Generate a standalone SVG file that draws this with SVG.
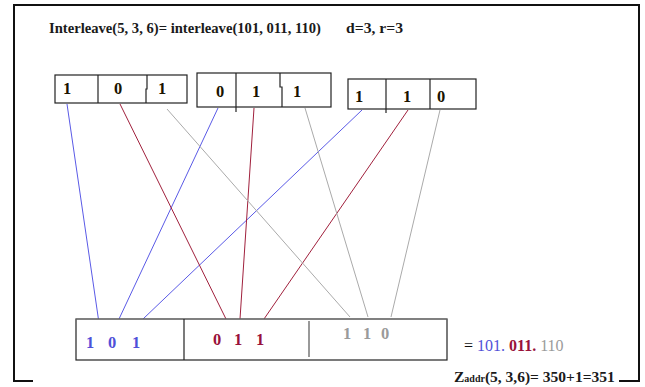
<svg xmlns="http://www.w3.org/2000/svg" width="645" height="387" viewBox="0 0 645 387">
<style>
.frame{fill:none;stroke:#111;stroke-width:2}
.box{fill:#fff;stroke:#222;stroke-width:1.2}
.div{stroke:#222;stroke-width:1.2}
.t{font-family:"Liberation Serif","Times New Roman",serif;font-weight:bold;font-size:15.5px;fill:#1a1a1a}
.d{font-family:"Liberation Serif","Times New Roman",serif;font-weight:bold;font-size:16.5px;fill:#1a1400}
.n{font-family:"Liberation Serif","Times New Roman",serif;font-weight:bold;font-size:16.5px}
.blue{stroke:#5a5ae6;stroke-width:1}
.red{stroke:#a0203c;stroke-width:1}
.gray{stroke:#aaaaaa;stroke-width:1}
.cb{fill:#5050d8}
.cr{fill:#99123a}
.cg{fill:#9a9a9a}
</style>
<rect width="645" height="387" fill="#fff"/>
<g id="frame">
<path class="frame" d="M33,381 H14 V5 H639 V381 H619"/>
</g>
<g id="title">
<text class="t" x="49" y="33" textLength="272" lengthAdjust="spacingAndGlyphs">Interleave(5, 3, 6)= interleave(101, 011, 110)</text>
<text class="t" x="346" y="33" textLength="57" lengthAdjust="spacingAndGlyphs">d=3, r=3</text>
</g>
<g id="connectors">
<line class="blue" x1="67" y1="104" x2="99" y2="323"/>
<line class="blue" x1="218" y1="108" x2="119" y2="319"/>
<line class="blue" x1="362" y1="110" x2="143" y2="319"/>
<line class="red" x1="120" y1="104" x2="226" y2="319"/>
<line class="red" x1="254" y1="108" x2="240" y2="319"/>
<line class="red" x1="408" y1="110" x2="264" y2="319"/>
<line class="gray" x1="167" y1="109" x2="350" y2="317"/>
<line class="gray" x1="305" y1="108" x2="368" y2="317"/>
<line class="gray" x1="440" y1="110" x2="391" y2="317"/>
</g>
<g id="box1">
<rect class="box" x="55" y="75" width="132" height="28"/>
<line class="div" x1="98" y1="75" x2="98" y2="103"/>
<path class="div" fill="none" d="M147,75 V89 H146 V103"/>
<text class="d" x="63" y="94">1</text>
<text class="d" x="114" y="94">0</text>
<text class="d" x="158" y="94">1</text>
</g>
<g id="box2">
<rect class="box" x="197" y="73" width="134" height="34"/>
<line class="div" x1="236" y1="73" x2="236" y2="112"/>
<path class="div" fill="none" d="M280,73 V87 H282 V107"/>
<text class="d" x="216" y="97">0</text>
<text class="d" x="252" y="97">1</text>
<text class="d" x="293" y="97">1</text>
</g>
<g id="box3">
<rect class="box" x="348" y="79" width="128" height="30"/>
<line class="div" x1="386" y1="79" x2="386" y2="113"/>
<line class="div" x1="430" y1="79" x2="430" y2="109"/>
<text class="d" x="355" y="102">1</text>
<text class="d" x="403" y="102">1</text>
<text class="d" x="437" y="102">0</text>
</g>
<g id="result">
<rect x="76" y="319" width="371" height="41" fill="#fff" stroke="#222" stroke-width="1.2"/>
<line x1="76" y1="319" x2="447" y2="319" stroke="#888" stroke-width="1.2"/>
<line class="div" x1="184" y1="319" x2="184" y2="360"/>
<line x1="309" y1="321" x2="309" y2="357" stroke="#555" stroke-width="1.2"/>
<text class="n cb" x="86" y="348">1</text>
<text class="n cb" x="108" y="348">0</text>
<text class="n cb" x="132" y="348">1</text>
<text class="n cr" x="213" y="345">0</text>
<text class="n cr" x="234" y="345">1</text>
<text class="n cr" x="256" y="345">1</text>
<text class="n cg" x="343" y="339" font-weight="normal">1</text>
<text class="n cg" x="363" y="339" font-weight="normal">1</text>
<text class="n cg" x="381" y="339" font-weight="normal">0</text>
</g>
<g id="equals">
<text font-family="Liberation Serif, serif" font-size="16" x="464" y="351"><tspan fill="#111">= </tspan><tspan class="cb">101.</tspan><tspan class="cr" font-weight="bold"> 011.</tspan><tspan class="cg"> 110</tspan></text>
</g>
<g id="zaddr">
<text class="t" x="454" y="382">Z<tspan font-size="10">addr</tspan><tspan>(5, 3,6)= 350+1=351</tspan></text>
</g>
</svg>
